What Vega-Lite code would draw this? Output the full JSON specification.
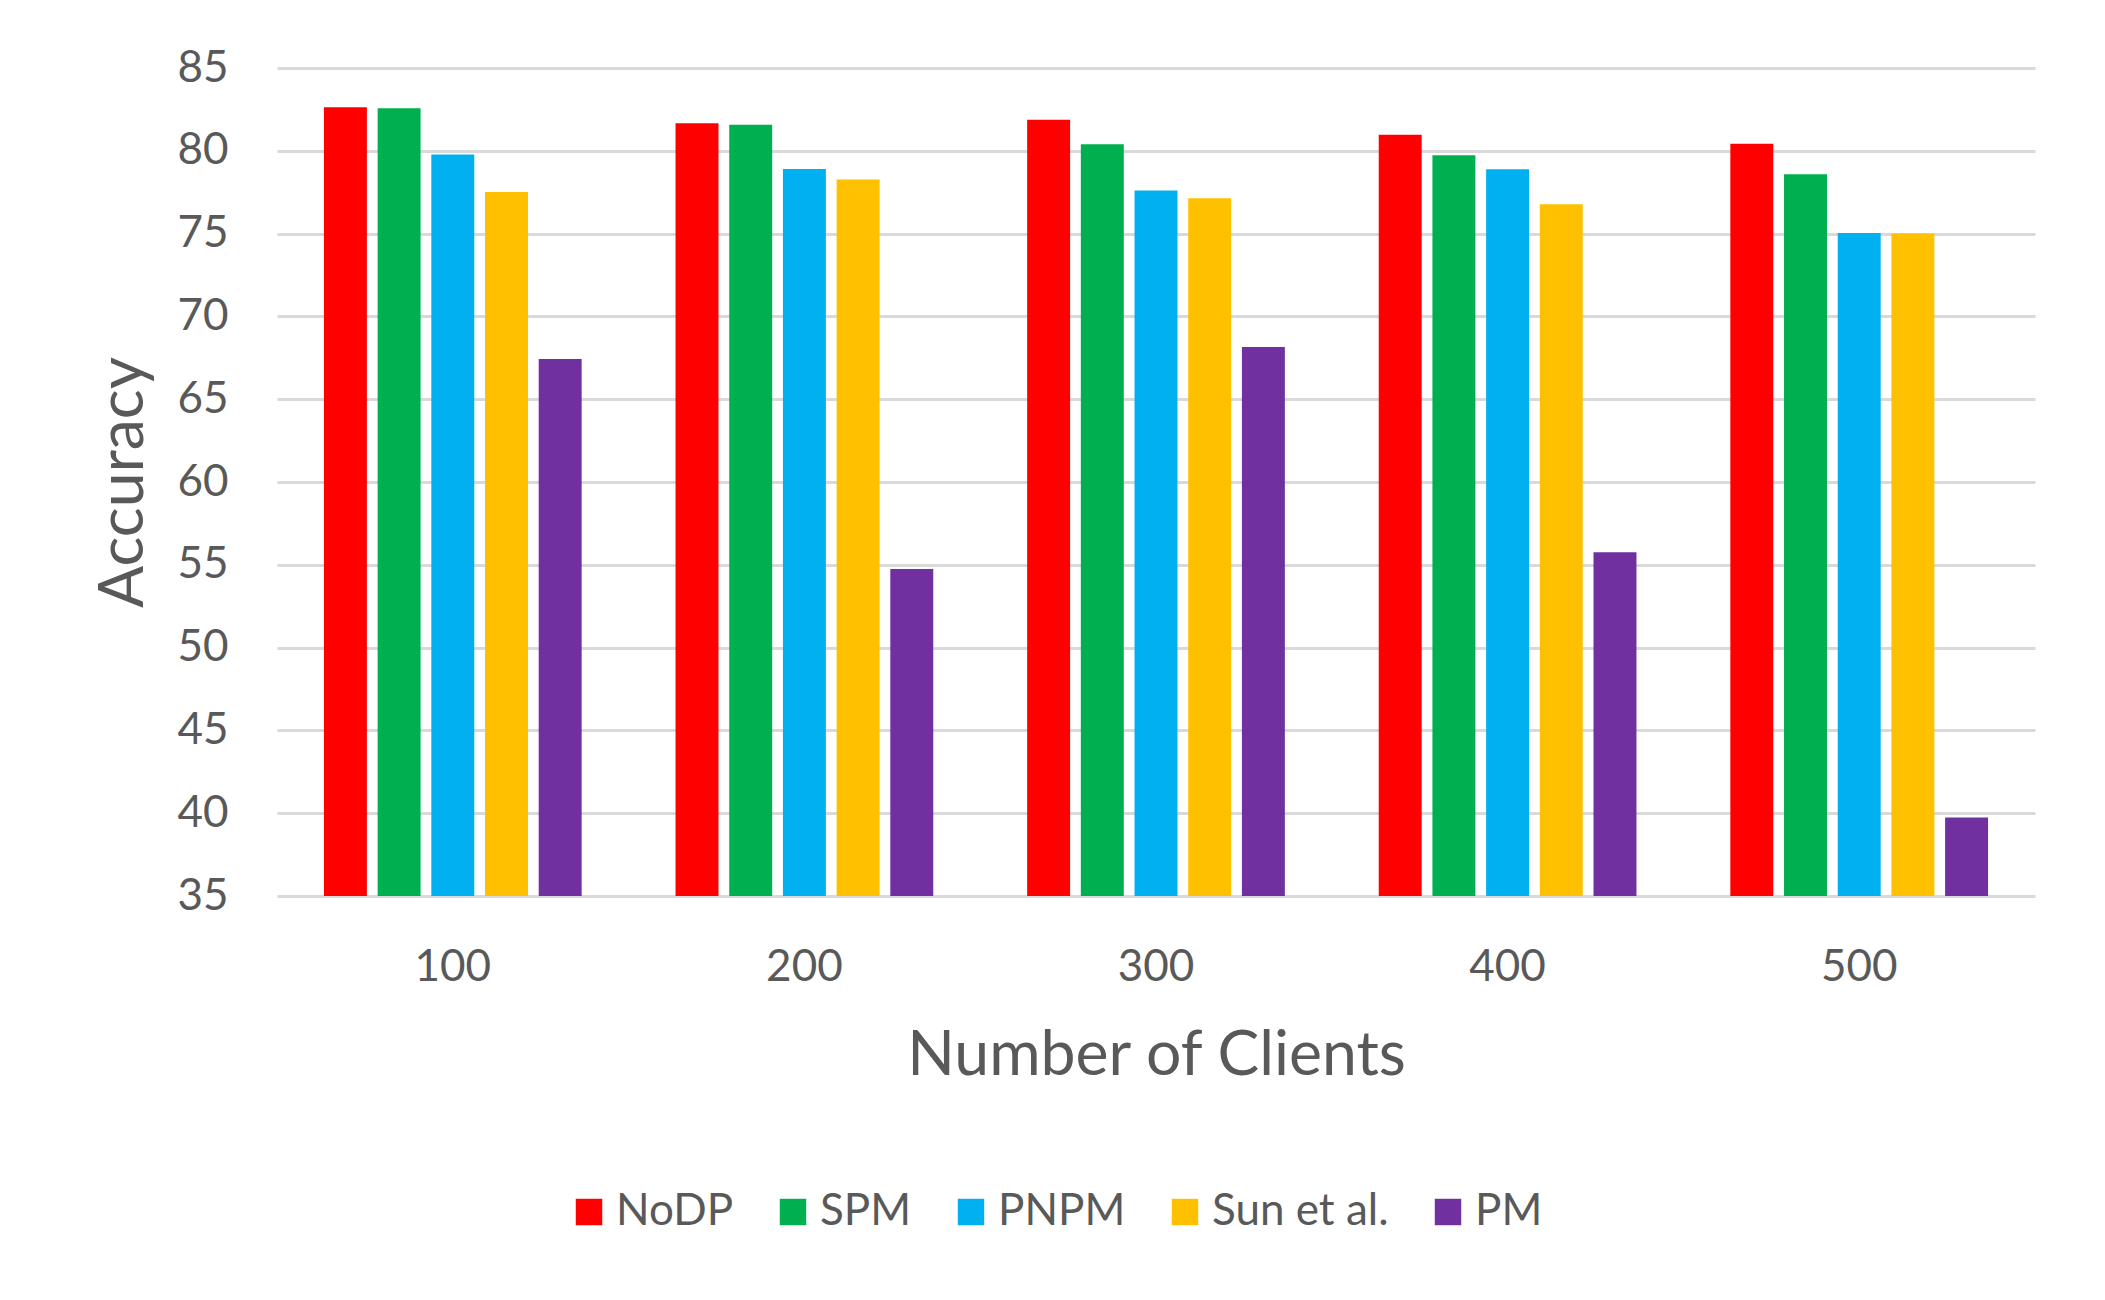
{
  "$schema": "https://vega.github.io/schema/vega-lite/v6.json",
  "width": 1758,
  "height": 828,
  "autosize": {"type": "none"},
  "padding": {"left": 277, "top": 68, "right": 70, "bottom": 404},
  "background": "white",
  "data": {
    "values": [
      {"clients": "100", "method": "NoDP", "accuracy": 82.63},
      {"clients": "100", "method": "SPM", "accuracy": 82.57},
      {"clients": "100", "method": "PNPM", "accuracy": 79.77},
      {"clients": "100", "method": "Sun et al.", "accuracy": 77.51},
      {"clients": "100", "method": "PM", "accuracy": 67.43},
      {"clients": "200", "method": "NoDP", "accuracy": 81.66},
      {"clients": "200", "method": "SPM", "accuracy": 81.58},
      {"clients": "200", "method": "PNPM", "accuracy": 78.9},
      {"clients": "200", "method": "Sun et al.", "accuracy": 78.26},
      {"clients": "200", "method": "PM", "accuracy": 54.75},
      {"clients": "300", "method": "NoDP", "accuracy": 81.88},
      {"clients": "300", "method": "SPM", "accuracy": 80.39},
      {"clients": "300", "method": "PNPM", "accuracy": 77.61},
      {"clients": "300", "method": "Sun et al.", "accuracy": 77.13},
      {"clients": "300", "method": "PM", "accuracy": 68.15},
      {"clients": "400", "method": "NoDP", "accuracy": 80.97},
      {"clients": "400", "method": "SPM", "accuracy": 79.73},
      {"clients": "400", "method": "PNPM", "accuracy": 78.88},
      {"clients": "400", "method": "Sun et al.", "accuracy": 76.77},
      {"clients": "400", "method": "PM", "accuracy": 55.76},
      {"clients": "500", "method": "NoDP", "accuracy": 80.43},
      {"clients": "500", "method": "SPM", "accuracy": 78.58},
      {"clients": "500", "method": "PNPM", "accuracy": 75.04},
      {"clients": "500", "method": "Sun et al.", "accuracy": 75.0},
      {"clients": "500", "method": "PM", "accuracy": 39.74}
    ]
  },
  "mark": {"type": "bar"},
  "encoding": {
    "x": {
      "field": "clients",
      "type": "nominal",
      "sort": ["100", "200", "300", "400", "500"],
      "scale": {"paddingInner": 0.267, "paddingOuter": 0.1335},
      "axis": {
        "title": "Number of Clients",
        "labelAngle": 0,
        "ticks": false,
        "tickSize": 0,
        "domain": false,
        "labelPadding": 49,
        "titlePadding": 36
      }
    },
    "xOffset": {
      "field": "method",
      "type": "nominal",
      "sort": ["NoDP", "SPM", "PNPM", "Sun et al.", "PM"],
      "scale": {"paddingInner": 0.2, "paddingOuter": 0}
    },
    "y": {
      "field": "accuracy",
      "type": "quantitative",
      "scale": {"domain": [35, 85], "zero": false, "nice": false},
      "axis": {
        "title": "Accuracy",
        "values": [35, 40, 45, 50, 55, 60, 65, 70, 75, 80, 85],
        "ticks": false,
        "tickSize": 0,
        "domain": false,
        "labelPadding": 49,
        "titlePadding": 21,
        "grid": true
      }
    },
    "y2": {"datum": 35},
    "color": {
      "field": "method",
      "type": "nominal",
      "sort": ["NoDP", "SPM", "PNPM", "Sun et al.", "PM"],
      "scale": {
        "domain": ["NoDP", "SPM", "PNPM", "Sun et al.", "PM"],
        "range": ["#FF0000", "#00B050", "#00B0F0", "#FFC000", "#7030A0"]
      },
      "legend": {
        "title": null,
        "orient": "none",
        "direction": "horizontal",
        "legendX": 290,
        "legendY": 1122,
        "padding": 0,
        "symbolType": "square",
        "symbolSize": 700,
        "symbolStrokeWidth": 0,
        "labelOffset": 5,
        "columnPadding": 37,
        "labelFontSize": 44,
        "labelColor": "#595959",
        "labelFont": "Lato",
        "labelLimit": 400
      }
    }
  },
  "config": {
    "font": "Lato",
    "view": {"stroke": null},
    "axis": {
      "labelFont": "Lato",
      "titleFont": "Lato",
      "labelFontSize": 44,
      "titleFontSize": 62.5,
      "labelColor": "#595959",
      "titleColor": "#595959",
      "titleFontWeight": "normal",
      "gridColor": "#D9D9D9",
      "gridWidth": 3
    },
    "legend": {"symbolOpacity": 1}
  }
}
